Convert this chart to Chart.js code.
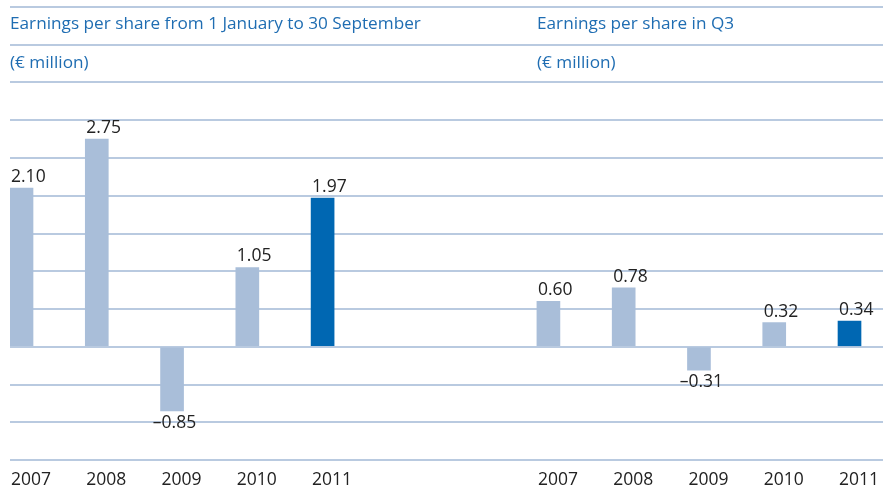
<!DOCTYPE html>
<html>
<head>
<meta charset="utf-8">
<script src="https://cdn.jsdelivr.net/npm/chart.js@4"></script>
<style>
  body { margin: 0; background: #fff; }
  #wrap { position: relative; width: 883px; height: 488px; }
  .ttl { position: absolute; font-family: "Open Sans", sans-serif; font-size: 17.2px; color: #1f6db2; white-space: nowrap; line-height: 20px; }
</style>
</head>
<body>
<div id="wrap">
  <canvas id="myChart" width="883" height="488"></canvas>
  <div class="ttl" style="left:10px; top:13px;">Earnings per share from 1 January to 30 September</div>
  <div class="ttl" style="left:10px; top:52px;">(€ million)</div>
  <div class="ttl" style="left:537px; top:13px;">Earnings per share in Q3</div>
  <div class="ttl" style="left:537px; top:52px;">(€ million)</div>
</div>
<script>
var years = ["2007", "2008", "2009", "2010", "2011"];
var ytdValues = [2.10, 2.75, -0.85, 1.05, 1.97];
var q3Values = [0.60, 0.78, -0.31, 0.32, 0.34];
var yTicks = { min: -1.5, max: 4.5, step: 0.5 };

var lightBar = "#a9bed9";
var darkBar = "#0067b2";
var gridColor = "#b9cae0";

// slots on the x axis: left panel 0..4, right panel 7..11
var gap = 2;
function slotOf(panel, i) { return panel === 0 ? i : i + years.length + gap; }

var points = [];
var colors = [];
var slotLabels = {};
[ytdValues, q3Values].forEach(function (vals, p) {
  vals.forEach(function (v, i) {
    points.push({ x: slotOf(p, i), y: v });
    colors.push(i === years.length - 1 ? darkBar : lightBar);
    slotLabels[slotOf(p, i)] = years[i];
  });
});

function fmt(v) {
  return (v < 0 ? "\u2013" : "") + Math.abs(v).toFixed(2);
}

var valueLabels = {
  id: "valueLabels",
  afterDatasetsDraw: function (chart) {
    var ctx = chart.ctx;
    var meta = chart.getDatasetMeta(0);
    ctx.save();
    ctx.font = "17.5px 'Open Sans', sans-serif";
    ctx.fillStyle = "#222";
    ctx.textAlign = "left";
    meta.data.forEach(function (bar, i) {
      var v = points[i].y;
      var left = bar.x - bar.width / 2 + 1;
      if (v < 0) {
        ctx.textBaseline = "top";
        left -= ctx.measureText("\u2013").width;
        ctx.fillText(fmt(v), left, bar.y + 3);
      } else {
        ctx.textBaseline = "alphabetic";
        ctx.fillText(fmt(v), left, bar.y - 6);
      }
    });
    ctx.restore();
  }
};

new Chart("myChart", {
  type: "bar",
  data: {
    datasets: [{
      data: points,
      backgroundColor: colors,
      barThickness: 23,
      borderWidth: 0
    }]
  },
  options: {
    responsive: false,
    animation: false,
    layout: { padding: { left: 10, top: 7, right: 0, bottom: 0 } },
    plugins: { legend: { display: false }, tooltip: { enabled: false } },
    scales: {
      x: {
        type: "linear",
        offset: false,
        min: -0.153,
        max: 11.445,
        grid: { display: false, drawTicks: false, offset: false },
        border: { display: false },
        afterBuildTicks: function (scale) {
          scale.ticks = Object.keys(slotLabels).map(function (k) { return { value: Number(k) }; });
        },
        afterFit: function (scale) {
          scale.height = 28;
          scale.paddingLeft = 0;
          scale.paddingRight = 0;
        },
        ticks: {
          autoSkip: false,
          maxRotation: 0,
          padding: 10,
          labelOffset: 9.5,
          color: "#222",
          font: { family: "'Open Sans', sans-serif", size: 17.5 },
          callback: function (v) { return slotLabels[v] || ""; }
        }
      },
      y: {
        min: yTicks.min,
        max: yTicks.max,
        grid: { color: gridColor, lineWidth: 2, drawTicks: false },
        border: { display: false },
        afterFit: function (scale) { scale.width = 0; },
        ticks: { display: false, stepSize: yTicks.step }
      }
    }
  },
  plugins: [valueLabels]
});
</script>
</body>
</html>
